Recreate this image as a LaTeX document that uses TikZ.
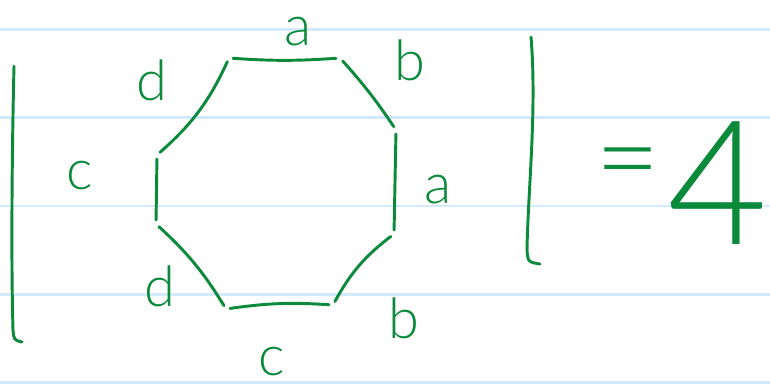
\documentclass[tikz,border=0pt]{standalone}
\usepackage{fontspec}
\usepackage{tikz}
\usetikzlibrary{calc}
\newfontfamily\thinfont{Lato Light}
\definecolor{penGreen}{HTML}{0B8A3C}
\definecolor{ruleBlue}{HTML}{D2EAFB}

\begin{document}
\begin{tikzpicture}[x=0.75pt, y=-0.75pt,
    pen/.style={penGreen, line width=2.2pt, line cap=round, line join=round},
    side/.style={pen, shorten <=3pt, shorten >=3pt},
    lbl/.style={penGreen, font=\thinfont\fontsize{42}{42}\selectfont, inner sep=0pt}]
    \clip (0,0) rectangle (770,386);
    \fill[white] (0,0) rectangle (770,386);
    \foreach \y in {29.3, 117.7, 206, 294.3, 382.7}
        \draw[ruleBlue, line width=2.2pt] (0,\y) -- (770,\y);

    \coordinate (v1) at (229,58);
    \coordinate (v2) at (340,58);
    \coordinate (v3) at (396,130);
    \coordinate (v4) at (394,234);
    \coordinate (v5) at (333,305);
    \coordinate (v6) at (226,309);
    \coordinate (v7) at (156,224);
    \coordinate (v8) at (157,155);

    \draw[side] (v1) to[bend right=4] (v2);
    \draw[side] (v2) to[bend left=4] (v3);
    \draw[side] (v3) -- (v4);
    \draw[side] (v4) to[bend right=12] (v5);
    \draw[side] (v5) to[bend right=6] (v6);
    \draw[side] (v6) to[bend right=8] (v7);
    \draw[side] (v7) -- (v8);
    \draw[side] (v8) to[bend right=12] (v1);

    \node[lbl] (lblA1) at (298,32) {a};
    \node[lbl] (lblB1) at (410,60) {b};
    \node[lbl] (lblA2) at (438,190) {a};
    \node[lbl] (lblB2) at (404,318) {b};
    \node[lbl] (lblC1) at (272,362) {c};
    \node[lbl] (lblD1) at (160,286) {d};
    \node[lbl] (lblC2) at (80,176) {c};
    \node[lbl] (lblD2) at (152,80) {d};

    \coordinate (barLtop) at (14,66);
    \coordinate (barLbot) at (22,342);
    \coordinate (barRtop) at (531,37);
    \coordinate (barRbot) at (540,264);
    \draw[pen] (barLtop) .. controls (12,150) and (11,260) .. (13,330)
        .. controls (14,340) .. (barLbot);
    \draw[pen] (barRtop) .. controls (537,110) and (528,190) .. (527,250)
        .. controls (528,262) .. (barRbot);

    \node[penGreen, font=\thinfont\fontsize{84}{84}\selectfont, inner sep=0pt]
        (eqsign) at (628,172) {=};
    \node[penGreen, font=\thinfont\fontsize{130}{130}\selectfont, inner sep=0pt,
        anchor=east] (four) at (768,183) {4};
\end{tikzpicture}
\end{document}
